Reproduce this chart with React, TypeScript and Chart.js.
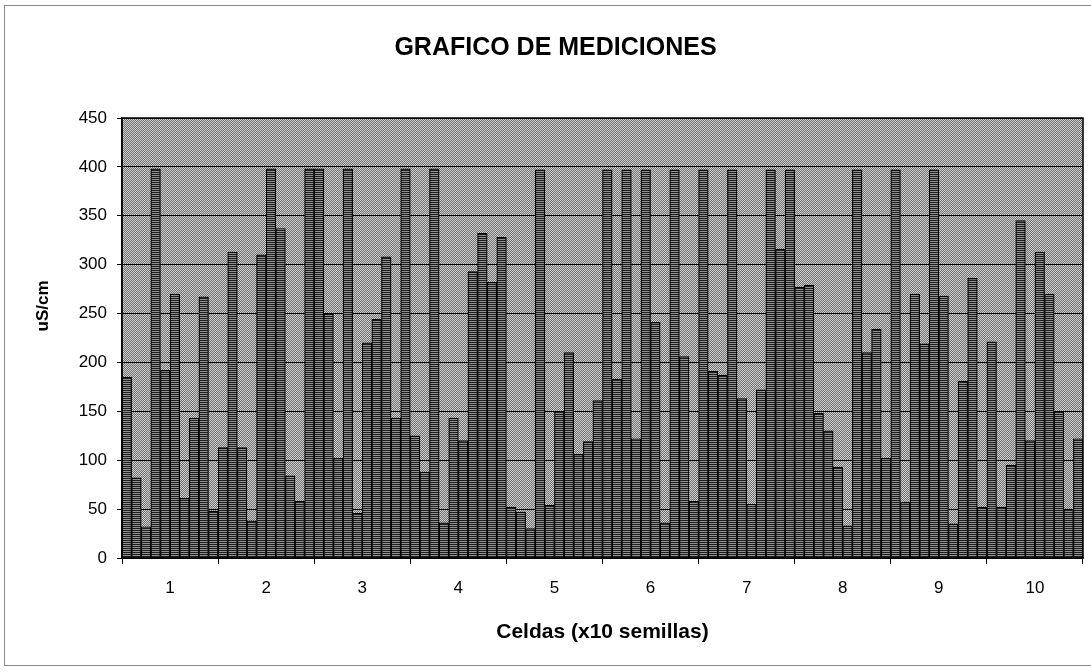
import React, { useEffect, useRef } from 'react';
import { Chart, registerables } from 'chart.js';

Chart.register(...registerables);

// Cell labels (x axis categories)
const cellLabels = ['1', '2', '3', '4', '5', '6', '7', '8', '9', '10'];

// Readings (uS/cm) for each cell: 10 seeds per cell, in order
const cell1 = [185, 82, 32, 398, 192, 270, 61, 143, 267, 48];
const cell2 = [113, 313, 113, 38, 310, 398, 337, 84, 58, 398];
const cell3 = [398, 250, 102, 398, 46, 220, 244, 308, 143, 398];
const cell4 = [125, 88, 398, 36, 143, 120, 293, 332, 282, 328];
const cell5 = [52, 47, 30, 397, 54, 150, 210, 106, 119, 161];
const cell6 = [397, 183, 397, 122, 397, 241, 36, 397, 206, 58];
const cell7 = [397, 191, 187, 397, 163, 55, 172, 397, 316, 397];
const cell8 = [277, 279, 148, 130, 93, 33, 397, 210, 234, 102];
const cell9 = [397, 57, 270, 219, 397, 268, 35, 181, 286, 52];
const cell10 = [221, 52, 95, 345, 120, 313, 270, 150, 50, 122];

const cellReadings = [cell1, cell2, cell3, cell4, cell5, cell6, cell7, cell8, cell9, cell10];
const seedLabels = ['S1', 'S2', 'S3', 'S4', 'S5', 'S6', 'S7', 'S8', 'S9', 'S10'];

const yMin = 0;
const yMax = 450;
const yStep = 50;

const titleText = 'GRAFICO DE MEDICIONES';
const xTitle = 'Celdas (x10 semillas)';
const yTitle = 'uS/cm';

function makePattern(w: number, h: number, draw: (c: CanvasRenderingContext2D) => void) {
  const cv = document.createElement('canvas');
  cv.width = w;
  cv.height = h;
  const c = cv.getContext('2d') as CanvasRenderingContext2D;
  draw(c);
  const ctx = document.createElement('canvas').getContext('2d') as CanvasRenderingContext2D;
  return ctx.createPattern(cv, 'repeat') as CanvasPattern;
}

export default function App() {
  const canvasRef = useRef<HTMLCanvasElement | null>(null);

  useEffect(() => {
    const canvas = canvasRef.current;
    if (!canvas) return;

    const font = "'Liberation Sans', Arial, sans-serif";

    const plotPattern = makePattern(2, 2, (c) => {
      c.fillStyle = '#707070';
      c.fillRect(0, 0, 2, 2);
      c.fillStyle = '#cfcfcf';
      c.fillRect(0, 0, 1, 1);
      c.fillRect(1, 1, 1, 1);
    });

    const barPattern = makePattern(2, 2, (c) => {
      c.fillStyle = '#909090';
      c.fillRect(0, 0, 2, 2);
      c.fillStyle = '#1e1e1e';
      c.fillRect(0, 0, 2, 1);
    });

    const plotBg = {
      id: 'plotBg',
      beforeDraw(chart: any) {
        const { ctx, chartArea } = chart;
        ctx.save();
        ctx.fillStyle = plotPattern;
        ctx.fillRect(chartArea.left, chartArea.top, chartArea.right - chartArea.left, chartArea.bottom - chartArea.top);
        ctx.restore();
      },
      afterDraw(chart: any) {
        const { ctx, chartArea } = chart;
        ctx.save();
        ctx.strokeStyle = '#000';
        ctx.lineWidth = 1.5;
        ctx.strokeRect(chartArea.left, chartArea.top, chartArea.right - chartArea.left, chartArea.bottom - chartArea.top);
        // y axis title, placed as in the reference
        ctx.translate(43, 306);
        ctx.rotate(-Math.PI / 2);
        ctx.fillStyle = '#000';
        ctx.font = `bold 17px ${font}`;
        ctx.textAlign = 'center';
        ctx.textBaseline = 'middle';
        ctx.fillText(yTitle, 0, 0);
        ctx.restore();
      },
    };

    const datasets = seedLabels.map((label, j) => ({
      label,
      data: cellReadings.map((cell) => cell[j]),
      backgroundColor: barPattern,
      borderColor: '#000',
      borderWidth: 1.2,
      barPercentage: 1,
      categoryPercentage: 1,
    }));

    const chart = new Chart(canvas, {
      type: 'bar',
      data: { labels: cellLabels, datasets },
      plugins: [plotBg],
      options: {
        responsive: false,
        animation: false,
        devicePixelRatio: 1,
        layout: { padding: { left: 28, right: 8, top: 0, bottom: 0 } },
        plugins: {
          legend: { display: false },
          tooltip: { enabled: false },
          title: {
            display: true,
            text: titleText,
            color: '#000',
            font: { family: font, size: 25, weight: 'bold' },
            padding: { top: 33, bottom: 55 },
          },
        },
        scales: {
          x: {
            type: 'category',
            offset: true,
            grid: {
              display: true,
              drawOnChartArea: false,
              drawTicks: true,
              tickLength: 6,
              color: '#000',
              offset: true,
            },
            border: { display: true, color: '#000', width: 1.5 },
            ticks: {
              color: '#000',
              font: { family: font, size: 17 },
              padding: 14,
              maxRotation: 0,
            },
            title: {
              display: true,
              text: xTitle,
              color: '#000',
              font: { family: font, size: 21, weight: 'bold' },
              padding: { top: 0, bottom: 27 },
            },
            afterFit: (s: any) => {
              s.height = 114;
            },
          },
          y: {
            min: yMin,
            max: yMax,
            grid: {
              color: '#000',
              lineWidth: 1,
              tickLength: 5,
              drawTicks: true,
            },
            border: { display: true, color: '#000', width: 1.5 },
            ticks: {
              stepSize: yStep,
              color: '#000',
              font: { family: font, size: 17 },
              padding: 10,
            },
            title: { display: false, text: yTitle },
            afterFit: (s: any) => {
              s.width = 94;
            },
          },
        },
      },
    });

    return () => chart.destroy();
  }, []);

  return (
    <div style={{ position: 'absolute', left: 0, top: 0, width: 1091, height: 672, background: '#fff', overflow: 'hidden' }}>
      <div
        style={{
          position: 'absolute',
          left: 4,
          top: 5,
          width: 1100,
          height: 661,
          border: '1px solid #8a8a8a',
          boxSizing: 'border-box',
        }}
      />
      <canvas ref={canvasRef} width={1091} height={672} style={{ position: 'absolute', left: 0, top: 0 }} />
    </div>
  );
}
